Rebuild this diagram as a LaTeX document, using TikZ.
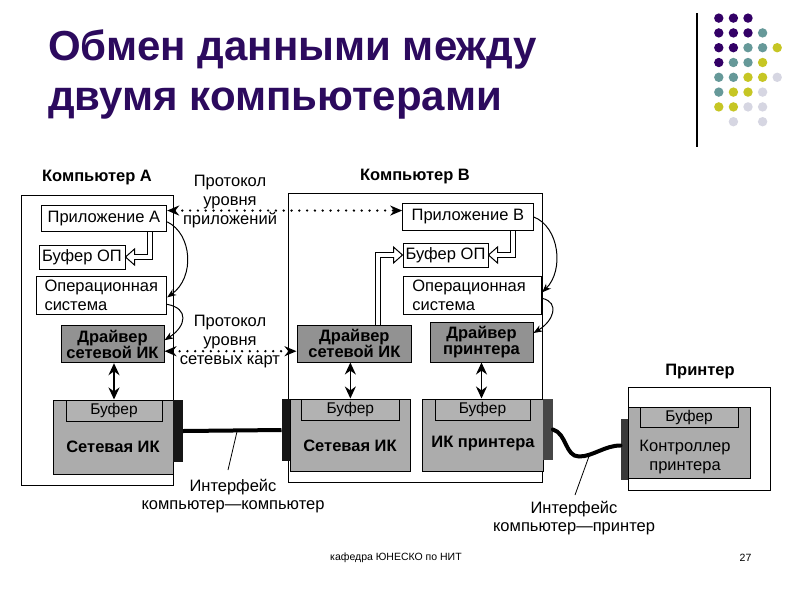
\documentclass[tikz,border=0pt]{standalone}
\usepackage{fontspec}
\setmainfont{Liberation Sans}
\usetikzlibrary{arrows.meta,calc}
\definecolor{titlecol}{RGB}{44,10,94}
\definecolor{dotpurple}{RGB}{51,0,102}
\definecolor{dotteal}{RGB}{102,153,153}
\definecolor{dotyellow}{RGB}{198,198,36}
\definecolor{dotgray}{RGB}{214,214,226}
\definecolor{cardgray}{RGB}{172,172,172}
\definecolor{bufgray}{RGB}{178,178,178}
\definecolor{drvgray}{RGB}{146,146,146}
\definecolor{conblack}{RGB}{22,22,22}
\definecolor{condark}{RGB}{70,70,70}
\newcommand\myfs[2]{\fontsize{#1}{#2}\selectfont}
\begin{document}
\begin{tikzpicture}[x=1pt,y=-1pt,
  sz/.style 2 args={minimum width=#1pt, minimum height=#2pt},
  outerbox/.style={draw, line width=0.9pt, fill=white, inner sep=0pt},
  wbox/.style={draw, line width=1pt, fill=white, inner sep=0pt, font=\myfs{16.5}{19}},
  cardbox/.style={draw, line width=1pt, fill=cardgray, inner sep=0pt},
  bufbox/.style={draw, line width=1pt, fill=bufgray, inner sep=0pt, font=\myfs{15.5}{18}},
  drvbox/.style={draw, line width=1pt, fill=drvgray, inner sep=0pt, align=center, font=\bfseries\myfs{16.5}{16}},
  conbox/.style={fill=conblack, inner sep=0pt},
  lbl/.style={inner sep=0pt, align=center, font=\myfs{16.5}{19}},
  blbl/.style={inner sep=0pt, align=center, font=\bfseries\myfs{16.5}{19}},
  titlef/.style={inner sep=0pt, text=titlecol, font=\bfseries\myfs{42}{50}},
  proto/.style={line width=2.6pt, line cap=round, dash pattern=on 0pt off 7.8pt,
    {Stealth[length=12pt,width=10pt]}-{Stealth[length=12pt,width=10pt]}},
  vdbl/.style={line width=1.6pt, {Stealth[length=12pt,width=11pt]}-{Stealth[length=12pt,width=11pt]}},
  curv/.style={line width=1pt, -{Stealth[length=9pt,width=7pt]}},
  hollowout/.style={line width=5.6pt, draw=black},
  hollowin/.style={line width=3.4pt, draw=white},
  hollowtip/.style={fill=white, draw=black, line width=1pt, line join=miter},
  cable/.style={line width=4pt, draw=black},
  pointer/.style={line width=0.8pt}
]
\fill[white] (0,0) rectangle (800,600);
\useasboundingbox (0,0) rectangle (800,600);

% ---- title ----
\node[titlef, anchor=base west] (t1) at (48,60) {Обмен данными между};
\node[titlef, anchor=base west] (t2) at (48,110) {двумя компьютерами};

% ---- decoration ----
\draw[line width=1.3pt] (697,13) -- (697,147);
\foreach \c/\r/\col in {1/1/dotpurple,2/1/dotpurple,3/1/dotpurple,
  1/2/dotpurple,2/2/dotpurple,3/2/dotpurple,4/2/dotteal,
  1/3/dotpurple,2/3/dotpurple,3/3/dotteal,4/3/dotteal,5/3/dotyellow,
  1/4/dotpurple,2/4/dotteal,3/4/dotteal,4/4/dotyellow,
  1/5/dotteal,2/5/dotteal,3/5/dotyellow,4/5/dotyellow,5/5/dotgray,
  1/6/dotteal,2/6/dotyellow,3/6/dotyellow,4/6/dotgray,
  1/7/dotyellow,2/7/dotyellow,3/7/dotgray,4/7/dotgray,
  2/8/dotgray,4/8/dotgray}
  \fill[\col] ({704.2+14.6*\c},{3.3+14.8*\r}) circle (4.7);

% ---- outer boxes ----
\node[outerbox, sz={151.3}{290}] (compA) at (97.35,340) {};
\node[outerbox, sz={254.7}{289.4}] (compB) at (415.35,338) {};
\node[outerbox, sz={142.4}{102.3}] (prn) at (699.5,438.85) {};

\node[blbl] (compAl) at (97,178) {Компьютер А};
\node[blbl] (compBl) at (415,177) {Компьютер В};
\node[blbl] (prnl) at (700,372) {Принтер};

% ---- computer A ----
\node[wbox, sz={125.7}{26.7}] (appA) at (103.85,218.35) {Приложение А};
\node[wbox, sz={86}{24}] (bufA) at (82,257) {Буфер ОП};
\node[wbox, minimum height=37.3pt, text width=113.7pt, inner xsep=8.5pt, align=left] (osA) at (101.35,295.35) {Операционная\\система};
\node[drvbox, sz={103}{37}] (drvA) at (112.5,344.2) {Драйвер\\сетевой ИК};
\node[cardbox, sz={120}{74}] (nicA) at (113,437) {};
\node[bufbox, sz={96}{21}] (nbufA) at (114,410.5) {Буфер};
\node[blbl] (nicAl) at (113,447) {Сетевая ИК};
\node[conbox, sz={10}{62}] (conA) at (178,431) {};

% ---- computer B ----
\node[wbox, sz={130.3}{27.7}] (appB) at (467.85,216.85) {Приложение В};
\node[wbox, sz={85}{24}] (bufB) at (445.5,255) {Буфер ОП};
\node[wbox, minimum height=37.3pt, text width=120pt, inner xsep=9.35pt, align=left] (osB) at (472.35,295.35) {Операционная\\система};
\node[drvbox, sz={114.7}{37}] (drvB) at (354.35,343.5) {Драйвер\\сетевой ИК};
\node[drvbox, sz={103}{40}] (prdrv) at (481.5,342) {Драйвер\\принтера};
\node[cardbox, sz={120.7}{72.7}] (nicB) at (350.35,435.35) {};
\node[bufbox, sz={97.3}{21}] (nbufB) at (350.35,409.5) {Буфер};
\node[blbl] (nicBl) at (350,446) {Сетевая ИК};
\node[conbox, sz={8.3}{62}] (conB) at (285.85,430) {};
\node[cardbox, sz={120.3}{72.7}] (pnic) at (482.85,435.35) {};
\node[bufbox, sz={95}{21}] (pbuf) at (482.5,409.5) {Буфер};
\node[blbl] (pnicl) at (483,444) {ИК принтера};
\node[conbox, fill=condark, sz={9.7}{61}] (conP) at (547.85,429.5) {};

% ---- printer ----
\node[cardbox, sz={122}{71}] (ctrl) at (689,442.8) {};
\node[bufbox, sz={98.3}{19.7}] (cbuf) at (689.15,417.15) {Буфер};
\node[lbl, font=\myfs{16.5}{18.5}] (ctrll) at (685,457) {Контроллер\\принтера};
\node[conbox, fill=conblack!85!white, sz={7.3}{61}] (conPr) at (624.35,449.5) {};

% ---- protocol labels ----
\node[lbl] (proto1) at (230,201.5) {Протокол\\уровня\\приложений};
\node[lbl] (proto2) at (230,342) {Протокол\\уровня\\сетевых карт};
\node[lbl, font=\myfs{16.5}{18}] (ifc1) at (233,496) {Интерфейс\\компьютер—компьютер};
\node[lbl, font=\myfs{16.5}{18}] (ifc2) at (574,518) {Интерфейс\\компьютер—принтер};

% ---- protocol arrows ----
\draw[proto] ([yshift=7.8pt]appA.east) -- ([yshift=7.8pt]appA.east -| appB.west);
\draw[proto] ([yshift=-7pt]drvA.east) -- ([yshift=-7pt]drvA.east -| drvB.west);

% ---- curved arrows ----
\draw[curv] ([yshift=-3.5pt]appA.east) .. controls +(25,12) and +(28,-20) .. ([yshift=-2pt]osA.east);
\draw[curv] ([yshift=-9pt]osA.east) .. controls +(22,4) and +(22,-14) .. ([yshift=4pt]drvA.east);
\draw[curv] (appB.east) .. controls +(26,10) and +(22,-22) .. ([yshift=3pt]osB.east);
\draw[curv] ([yshift=-3pt]osB.east) .. controls +(18,4) and +(20,-12) .. ([yshift=9pt]prdrv.east);

% ---- hollow arrows ----
\coordinate (h1s) at ([xshift=46pt]appA.south);
\coordinate (h1b) at ([xshift=9pt]bufA.east);
\draw[hollowout] (h1s) |- (h1b);
\filldraw[hollowtip, shift={(bufA.east)}] (9,-8) -- (0,0) -- (9,8) -- cycle;
\draw[hollowin] (h1s) |- ([xshift=-1.2pt]h1b);

\coordinate (h2s) at ([xshift=45pt]appB.south);
\coordinate (h2b) at ([xshift=9pt]bufB.east);
\draw[hollowout] (h2s) |- (h2b);
\filldraw[hollowtip, shift={(bufB.east)}] (9,-8) -- (0,0) -- (9,8) -- cycle;
\draw[hollowin] (h2s) |- ([xshift=-1.2pt]h2b);

\coordinate (h3s) at ([xshift=23.6pt]drvB.north);
\coordinate (h3b) at ([xshift=-9pt]bufB.west);
\draw[hollowout] (h3s) |- (h3b);
\filldraw[hollowtip, shift={(bufB.west)}] (-9,-8) -- (0,0) -- (-9,8) -- cycle;
\draw[hollowin] (h3s) |- ([xshift=1.2pt]h3b);

% ---- vertical double arrows ----
\draw[vdbl] ([xshift=1.5pt]drvA.south) -- ([xshift=1.5pt]drvA.south |- nicA.north);
\draw[vdbl] (nicB.north |- drvB.south) -- (nicB.north);
\draw[vdbl] (prdrv.south) -- (prdrv.south |- pnic.north);

% ---- cables ----
\draw[cable] (conA.east) -- (conB.west);
\coordinate (cabmid) at (579,456.5);
\draw[cable, line cap=round] (conP.east) .. controls +(14,4) and +(-14,0) .. (cabmid)
  .. controls +(14,0) and +(-16,0) .. ([yshift=4pt]conPr.west);

% ---- pointer lines ----
\coordinate (l1s) at ($(conA.east)!0.55!(conB.west)$);
\coordinate (l1e) at (228,470);
\draw[pointer] (l1s) -- (l1e);
\coordinate (l2s) at (590,453.5);
\coordinate (l2e) at (575,495);
\draw[pointer] (l2s) -- (l2e);

% ---- footer ----
\node[inner sep=0pt, anchor=west, font=\myfs{10.5}{12}] (foot) at (330,558) {кафедра ЮНЕСКО по НИТ};
\node[inner sep=0pt, font=\myfs{10.5}{12}] (page) at (745.5,558) {27};
\end{tikzpicture}
\end{document}
